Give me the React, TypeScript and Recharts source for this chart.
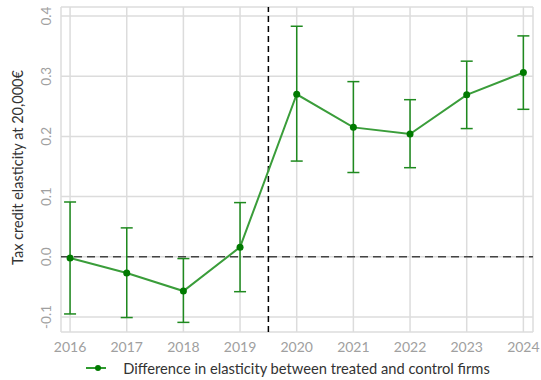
import React from 'react';
import { ComposedChart, Line, XAxis, YAxis, CartesianGrid, ReferenceLine, ErrorBar, Legend } from 'recharts';

const years = [2016, 2017, 2018, 2019, 2020, 2021, 2022, 2023, 2024];
const estimates = [-0.002, -0.027, -0.057, 0.016, 0.270, 0.215, 0.204, 0.269, 0.306];
const lowerCI = [-0.095, -0.101, -0.109, -0.058, 0.159, 0.140, 0.148, 0.213, 0.245];
const upperCI = [0.091, 0.048, -0.003, 0.090, 0.383, 0.291, 0.261, 0.325, 0.367];
const yTicks = [-0.1, 0.0, 0.1, 0.2, 0.3, 0.4];
const seriesName = 'Difference in elasticity between treated and control firms';
const yLabel = 'Tax credit elasticity at 20,000€';

const data = years.map((y, i) => ({
  year: y,
  est: estimates[i],
  err: [estimates[i] - lowerCI[i], upperCI[i] - estimates[i]],
}));

const FONT = 'Lato, "Open Sans", sans-serif';

const YTick = (props: any) => {
  const { x, y, payload } = props;
  return (
    <text x={x - 2} y={y} transform={`rotate(-90 ${x - 2} ${y})`} textAnchor="middle" fill="#a0a0a0" fontSize={13.5} fontFamily={FONT}>
      {payload.value.toFixed(1)}
    </text>
  );
};

const LegendContent = () => (
  <div style={{ display: 'flex', justifyContent: 'center', alignItems: 'center', fontFamily: FONT, fontSize: 14.7, color: '#333', height: 20, paddingLeft: 42 }}>
    <svg width={22} height={12} style={{ marginRight: 16 }}>
      <line x1={1} y1={6} x2={21} y2={6} stroke="#2e9a2e" strokeWidth={2} />
      <circle cx={13} cy={6} r={3} fill="#007a00" />
    </svg>
    <span>{seriesName}</span>
  </div>
);

export default function App() {
  return (
    <div style={{ position: 'absolute', left: 0, top: 0 }}>
      <ComposedChart width={541} height={380} data={data} margin={{ top: 7, right: 8, left: 0, bottom: 4 }}>
        <CartesianGrid stroke="#dcdcdc" strokeWidth={1.5} />
        <XAxis
          dataKey="year"
          type="number"
          domain={[2015.84, 2024.17]}
          ticks={years}
          tickLine={false}
          axisLine={false}
          tick={{ fill: '#a0a0a0', fontSize: 14, fontFamily: FONT }}
          tickMargin={4}
          height={24}
        />
        <YAxis
          type="number"
          domain={[-0.125, 0.415]}
          ticks={yTicks}
          tickLine={false}
          axisLine={false}
          width={61}
          tick={<YTick />}
          label={{ value: yLabel, angle: -90, position: 'insideLeft', dx: 13, dy: -2, fill: '#333', fontSize: 14.5, fontFamily: FONT, style: { textAnchor: 'middle' } }}
        />
        <ReferenceLine y={0} stroke="#444" strokeDasharray="8 5" strokeWidth={1.5} />
        <ReferenceLine x={2019.5} stroke="#000" strokeDasharray="6 4" strokeWidth={1.5} />
        <Line
          dataKey="est"
          name={seriesName}
          stroke="#3a9d3a"
          strokeWidth={2}
          dot={{ r: 3.5, fill: '#007a00', stroke: '#007a00', strokeWidth: 0 }}
          isAnimationActive={false}
        >
          <ErrorBar dataKey="err" stroke="#1f8a1f" strokeWidth={1.5} width={6} direction="y" />
        </Line>
        <Legend verticalAlign="bottom" content={<LegendContent />} wrapperStyle={{ bottom: 2 }} />
      </ComposedChart>
    </div>
  );
}
